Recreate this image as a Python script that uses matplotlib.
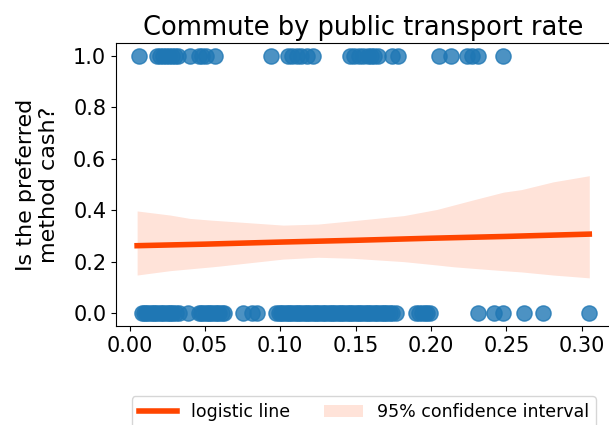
import matplotlib
matplotlib.use("Agg")
import matplotlib.pyplot as plt

# x values (commute by public transport rate) of cash = 1 observations
ones_x = [0.006, 0.018, 0.020, 0.022, 0.024, 0.026, 0.028, 0.030, 0.032,
          0.040, 0.046, 0.048, 0.0505, 0.057,
          0.0936, 0.105, 0.108, 0.111, 0.114, 0.118, 0.1215,
          0.146, 0.149, 0.152, 0.155, 0.158, 0.160, 0.162, 0.165, 0.174, 0.178,
          0.205, 0.213, 0.224, 0.2275, 0.2315, 0.248]

# x values of cash = 0 observations
zeros_x = [0.008, 0.0095, 0.011, 0.0125, 0.014, 0.0155, 0.017, 0.0185, 0.020,
           0.0215, 0.023, 0.0245, 0.026, 0.0275, 0.029, 0.0305, 0.0326, 0.0386,
           0.046, 0.0475, 0.049, 0.0505, 0.052, 0.0535, 0.055, 0.0565, 0.058,
           0.0595, 0.061, 0.0626,
           0.075, 0.081, 0.0845,
           0.097, 0.099, 0.1005, 0.102, 0.1035, 0.105, 0.1065, 0.108, 0.1095,
           0.111, 0.1125, 0.114, 0.1155, 0.117, 0.1185, 0.120, 0.1215, 0.123,
           0.1245, 0.126, 0.1275, 0.129, 0.1305, 0.132, 0.1335, 0.135, 0.1365,
           0.138, 0.1395, 0.141, 0.1425, 0.144, 0.1455, 0.147, 0.1485, 0.150,
           0.1515, 0.153, 0.1545, 0.156, 0.1575, 0.159, 0.1605, 0.162, 0.1635,
           0.165, 0.1665, 0.168, 0.1695, 0.171, 0.1725, 0.174, 0.177,
           0.190, 0.192, 0.194, 0.196, 0.1975, 0.199,
           0.231, 0.2415, 0.2475, 0.2615, 0.274, 0.305]

# fitted logistic line
line_x = [0.005, 0.05, 0.10, 0.15, 0.20, 0.25, 0.305]
line_y = [0.262, 0.268, 0.276, 0.283, 0.291, 0.298, 0.307]

# 95% confidence band
band_x = [0.005, 0.027, 0.040, 0.055, 0.060, 0.102, 0.125, 0.148, 0.182,
          0.204, 0.215, 0.228, 0.248, 0.260, 0.281, 0.305]
band_lo = [0.148, 0.165, 0.172, 0.180, 0.183, 0.210, 0.217, 0.213, 0.200,
           0.187, 0.180, 0.174, 0.165, 0.160, 0.148, 0.137]
band_hi = [0.397, 0.381, 0.368, 0.361, 0.359, 0.342, 0.346, 0.359, 0.379,
           0.403, 0.420, 0.440, 0.470, 0.480, 0.510, 0.534]

plt.rcParams['font.size'] = 15

fig = plt.figure(figsize=(6.09, 4.25), dpi=100)
ax = fig.add_axes([0.1905, 0.233, 0.813, 0.666])

ax.scatter(ones_x, [1.0] * len(ones_x), s=120, color='#1f77b4', alpha=0.8,
           edgecolors='#1f77b4', linewidths=1, zorder=2)
ax.scatter(zeros_x, [0.0] * len(zeros_x), s=120, color='#1f77b4', alpha=0.8,
           edgecolors='#1f77b4', linewidths=1, zorder=2)

line, = ax.plot(line_x, line_y, color='orangered', linewidth=4, label='logistic line', zorder=3)
band = ax.fill_between(band_x, band_lo, band_hi, color='orangered', alpha=0.15,
                       linewidth=0, label='95% confidence interval', zorder=1)

ax.set_xlim(-0.009, 0.3195)
ax.set_ylim(-0.05, 1.05)
ax.set_xticks([0.0, 0.05, 0.10, 0.15, 0.20, 0.25, 0.30])
ax.set_yticks([0.0, 0.2, 0.4, 0.6, 0.8, 1.0])
ax.set_title('Commute by public transport rate', fontsize=18.5)
ax.set_ylabel('Is the preferred\nmethod cash?', fontsize=16, labelpad=10)

fig.legend([line, band], ['logistic line', '95% confidence interval'],
           loc='upper center', bbox_to_anchor=(0.597, 0.088), ncol=2,
           fontsize=12.5, handlelength=2.2, columnspacing=2.0)

fig.savefig('out.png', dpi=100)
